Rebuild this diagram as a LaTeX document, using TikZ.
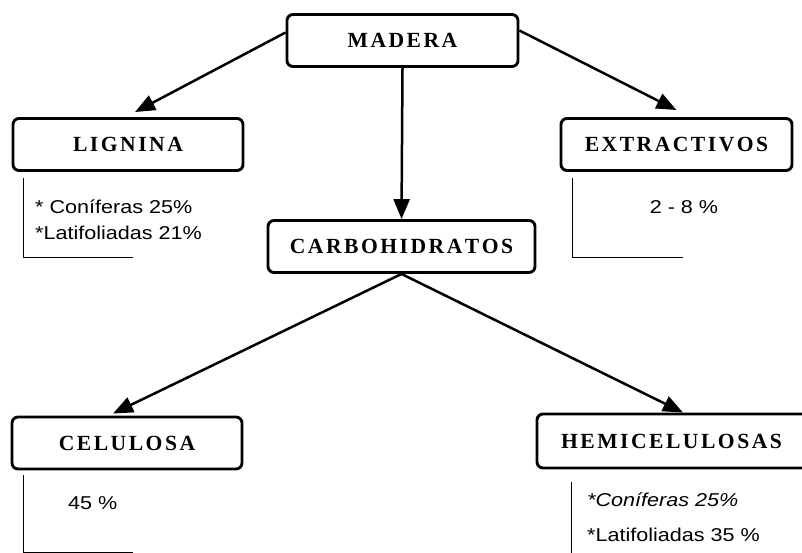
\documentclass[tikz,border=0pt]{standalone}
\usepackage{graphicx}
\usepackage{fontspec}
\setmainfont{Liberation Serif}
\setsansfont{Liberation Sans}
\usetikzlibrary{arrows.meta}
\def\track#1{\hspace*{2.5pt}\trackA#1\relax}
\def\trackA#1{\ifx#1\relax\else#1\kern2.5pt\expandafter\trackA\fi}
\newcommand\ntt[1]{\scalebox{1.16}[1]{#1}}
\tikzset{
  box/.style={draw, line width=2.9pt, rounded corners=6pt, minimum height=52pt,
    inner sep=0pt, font=\fontsize{21.6}{25}\selectfont\bfseries},
  arr/.style={line width=2.5pt, -{Triangle[length=20pt,width=16pt]}},
  bracket/.style={line width=1pt},
  note/.style={font=\fontsize{18.6}{22}\selectfont\sffamily, inner sep=0pt, anchor=west}
}
\begin{document}
\begin{tikzpicture}[x=1pt,y=-1pt]
\useasboundingbox (0,0) rectangle (802,553);
\clip (0,0) rectangle (802,553);
\node[box, minimum width=231pt] (madera) at (402.5,40.5) {\track{MADERA}};
\node[box, minimum width=230pt] (lignina) at (128,144.5) {\track{LIGNINA}};
\node[box, minimum width=231pt] (extr) at (676.5,144.5) {\track{EXTRACTIVOS}};
\node[box, minimum width=267pt] (carbo) at (401.5,246.5) {\track{CARBOHIDRATOS}};
\node[box, minimum width=230pt] (cel) at (127,443) {\track{CELULOSA}};
\node[box, minimum width=275pt, minimum height=54pt] (hemi) at (674.5,441) {\hspace*{-6pt}\track{HEMICELULOSAS}};

\draw[arr] ([yshift=8pt]madera.west) -- ([xshift=7pt,yshift=5pt]lignina.north);
\draw[arr] ([yshift=10pt]madera.east) -- ([yshift=7pt]extr.north);
\draw[arr] (madera.south) -- (carbo.north);
\draw[arr] (carbo.south) -- ([xshift=-14pt,yshift=2pt]cel.north);
\draw[arr] (carbo.south) -- ([xshift=8.5pt]hemi.north);

\draw[bracket] (23,178) -- (23,257) -- (133,257);
\draw[bracket] (572,178) -- (572,257) -- (683,257);
\draw[bracket] (23,475) -- (23,552) -- (133,552);
\draw[bracket] (571,482) -- (571,556);

\node[note] (l1) at (35,207) {\ntt{* Coníferas 25\%}};
\node[note] (l2) at (35,233) {\ntt{*Latifoliadas 21\%}};
\node[note, anchor=center] (e1) at (684,207) {\ntt{2 - 8 \%}};
\node[note] (c1) at (68,503) {\ntt{45 \%}};
\node[note] (h1) at (587,500) {\ntt{\itshape *Coníferas 25\%}};
\node[note] (h2) at (587,535) {\ntt{*Latifoliadas 35 \%}};
\end{tikzpicture}
\end{document}
